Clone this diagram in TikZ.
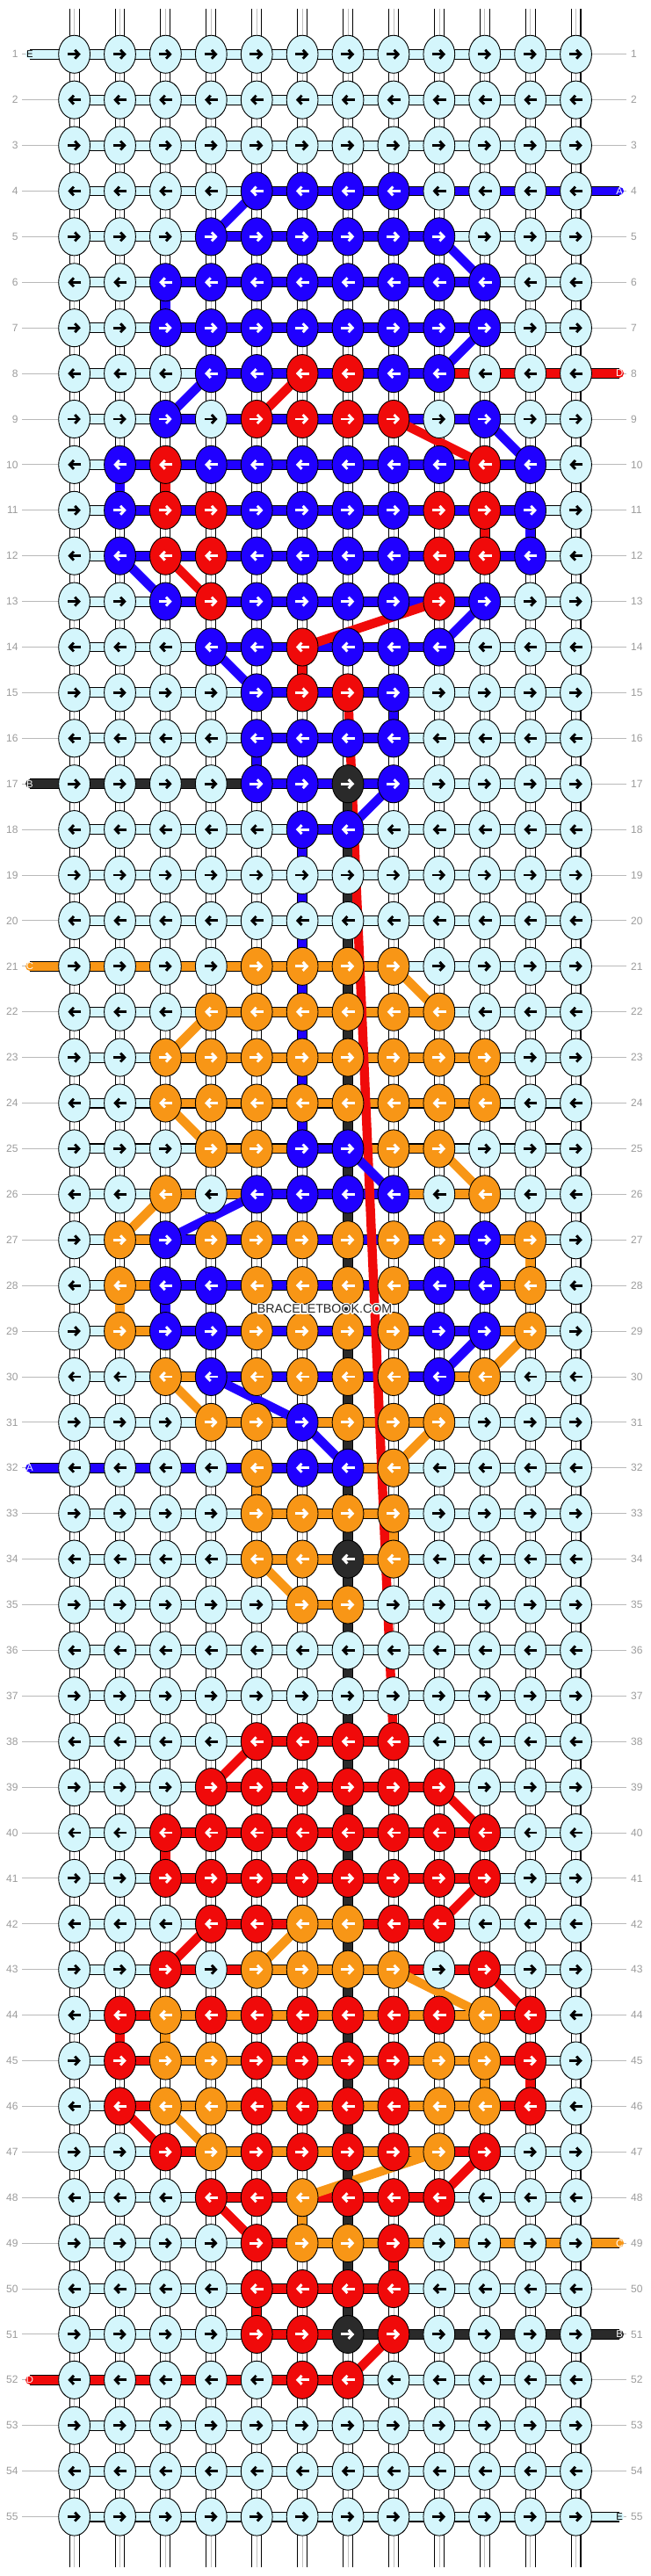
\documentclass[tikz,border=0pt]{standalone}
\usepackage{fontspec}
\setmainfont{Liberation Sans}
\usepackage[copies]{contour}
\usetikzlibrary{shapes.geometric, arrows.meta, positioning}
\pgfdeclarelayer{guides}
\pgfdeclarelayer{threads}
\pgfdeclarelayer{bars}
\pgfdeclarelayer{links}
\pgfsetlayers{guides,threads,bars,links,main}
\definecolor{kE}{RGB}{212,246,252}
\definecolor{kA}{RGB}{32,0,255}
\definecolor{kB}{RGB}{42,42,42}
\definecolor{kC}{RGB}{248,150,22}
\definecolor{kD}{RGB}{240,10,10}
\definecolor{labgray}{RGB}{155,155,155}
\definecolor{guidegray}{RGB}{185,185,185}
\contourlength{0.7pt}
\tikzset{
    knot/.style={ellipse, draw=black, line width=0.5pt, minimum width=0.69cm, minimum height=0.83cm, inner sep=0pt},
    knotE/.style={fill=kE}, knotA/.style={fill=kA}, knotB/.style={fill=kB},
    knotC/.style={fill=kC}, knotD/.style={fill=kD},
    arrowE/.style={black}, arrowA/.style={white}, arrowB/.style={white},
    arrowC/.style={white}, arrowD/.style={white},
    knotarrow/.pic={
      \draw[line width=1.6pt, -{Straight Barb[length=0.09cm, width=0.19cm]}] (-0.15,0) -- (0.14,0);
    },
    thread/.style={draw=white, line width=0.19cm, line cap=round,
      preaction={draw=black, line width=0.23cm}, postaction={draw=black!25, line width=0.3pt}},
    knotbar/.style={draw=#1, line width=0.19cm, line cap=round, preaction={draw=black, line width=0.23cm}},
    strand/.style={draw=#1, line width=0.2cm},
    rowlab/.style={font=\fontsize{6.6}{7}\selectfont, text=labgray, inner sep=2.5pt},
    guide/.style={draw=guidegray, line width=0.5pt},
    tag/.style={font=\fontsize{6.2}{7}\selectfont, inner sep=0pt},
    watermark/.style={font=\fontsize{7.8}{9}\selectfont, text=black!85, inner sep=0pt},
}
\begin{document}
\begin{tikzpicture}
    \useasboundingbox (0,0) rectangle (14.26,-56.49);

    % knots, row by row
    \foreach \r/\row in {
      1/{E,E,E,E,E,E,E,E,E,E,E,E},
      2/{E,E,E,E,E,E,E,E,E,E,E,E},
      3/{E,E,E,E,E,E,E,E,E,E,E,E},
      4/{E,E,E,E,A,A,A,A,E,E,E,E},
      5/{E,E,E,A,A,A,A,A,A,E,E,E},
      6/{E,E,A,A,A,A,A,A,A,A,E,E},
      7/{E,E,A,A,A,A,A,A,A,A,E,E},
      8/{E,E,E,A,A,D,D,A,A,E,E,E},
      9/{E,E,A,E,D,D,D,D,E,A,E,E},
      10/{E,A,D,A,A,A,A,A,A,D,A,E},
      11/{E,A,D,D,A,A,A,A,D,D,A,E},
      12/{E,A,D,D,A,A,A,A,D,D,A,E},
      13/{E,E,A,D,A,A,A,A,D,A,E,E},
      14/{E,E,E,A,A,D,A,A,A,E,E,E},
      15/{E,E,E,E,A,D,D,A,E,E,E,E},
      16/{E,E,E,E,A,A,A,A,E,E,E,E},
      17/{E,E,E,E,A,A,B,A,E,E,E,E},
      18/{E,E,E,E,E,A,A,E,E,E,E,E},
      19/{E,E,E,E,E,E,E,E,E,E,E,E},
      20/{E,E,E,E,E,E,E,E,E,E,E,E},
      21/{E,E,E,E,C,C,C,C,E,E,E,E},
      22/{E,E,E,C,C,C,C,C,C,E,E,E},
      23/{E,E,C,C,C,C,C,C,C,C,E,E},
      24/{E,E,C,C,C,C,C,C,C,C,E,E},
      25/{E,E,E,C,C,A,A,C,C,E,E,E},
      26/{E,E,C,E,A,A,A,A,E,C,E,E},
      27/{E,C,A,C,C,C,C,C,C,A,C,E},
      28/{E,C,A,A,C,C,C,C,A,A,C,E},
      29/{E,C,A,A,C,C,C,C,A,A,C,E},
      30/{E,E,C,A,C,C,C,C,A,C,E,E},
      31/{E,E,E,C,C,A,C,C,C,E,E,E},
      32/{E,E,E,E,C,A,A,C,E,E,E,E},
      33/{E,E,E,E,C,C,C,C,E,E,E,E},
      34/{E,E,E,E,C,C,B,C,E,E,E,E},
      35/{E,E,E,E,E,C,C,E,E,E,E,E},
      36/{E,E,E,E,E,E,E,E,E,E,E,E},
      37/{E,E,E,E,E,E,E,E,E,E,E,E},
      38/{E,E,E,E,D,D,D,D,E,E,E,E},
      39/{E,E,E,D,D,D,D,D,D,E,E,E},
      40/{E,E,D,D,D,D,D,D,D,D,E,E},
      41/{E,E,D,D,D,D,D,D,D,D,E,E},
      42/{E,E,E,D,D,C,C,D,D,E,E,E},
      43/{E,E,D,E,C,C,C,C,E,D,E,E},
      44/{E,D,C,D,D,D,D,D,D,C,D,E},
      45/{E,D,C,C,D,D,D,D,C,C,D,E},
      46/{E,D,C,C,D,D,D,D,C,C,D,E},
      47/{E,E,D,C,D,D,D,D,C,D,E,E},
      48/{E,E,E,D,D,C,D,D,D,E,E,E},
      49/{E,E,E,E,D,C,C,D,E,E,E,E},
      50/{E,E,E,E,D,D,D,D,E,E,E,E},
      51/{E,E,E,E,D,D,B,D,E,E,E,E},
      52/{E,E,E,E,E,D,D,E,E,E,E,E},
      53/{E,E,E,E,E,E,E,E,E,E,E,E},
      54/{E,E,E,E,E,E,E,E,E,E,E,E},
      55/{E,E,E,E,E,E,E,E,E,E,E,E}}{
      \ifodd\r \def\dir{1}\else\def\dir{-1}\fi
      \foreach \k [count=\c] in \row {
        \node[knot, knot\k] (k-\r-\c) at (\c+0.63,-\r-0.19) {};
        \path (k-\r-\c) pic[xscale=\dir, arrow\k] {knotarrow};
      }
      \coordinate (k-\r-0) at (0.655,-\r-0.19);
      \coordinate (k-\r-13) at (13.585,-\r-0.19);
    }

    \begin{pgfonlayer}{guides}
      \foreach \r in {1,...,55}{
        \node[rowlab, anchor=east] (ll-\r) at (0.49,-\r-0.19) {\r};
        \node[rowlab, anchor=west] (rl-\r) at (13.74,-\r-0.19) {\r};
        \draw[guide] (ll-\r) -- (k-\r-1);
        \draw[guide] (k-\r-12) -- (rl-\r);
      }
    \end{pgfonlayer}

    \begin{pgfonlayer}{threads}
      \foreach \c in {1,...,12}{
        \coordinate (top-\c) at (\c+0.63,-0.2);
        \coordinate (bot-\c) at (\c+0.63,-56.29);
        \draw[thread] (top-\c) -- (k-1-\c.center);
        \draw[thread] (k-55-\c.center) -- (bot-\c);
        \foreach \r [evaluate=\r as \n using int(\r+1)] in {1,...,54}
          \draw[thread] (k-\r-\c.center) -- (k-\n-\c.center);
      }
    \end{pgfonlayer}

    \begin{pgfonlayer}{bars}
      \foreach \r in {1,...,55}{
        \draw[knotbar=kE] (k-\r-1.center) -- (k-\r-12.center);
      }
      \draw[knotbar=kE] (k-1-0.center) -- (k-1-1.center);
      \draw[knotbar=kE] (k-55-12.center) -- (k-55-13.center);
      % red
      \foreach \r/\a/\b in {8/6/13, 9/5/8, 10/3/10, 11/3/10, 12/3/10, 13/4/9, 15/6/7,
          38/5/8, 39/4/9, 40/3/10, 41/3/10, 42/4/9, 43/3/10, 44/2/11, 45/2/11, 46/2/11,
          47/3/10, 48/4/9, 49/5/8, 50/5/8, 51/5/8, 52/0/7}
        \draw[knotbar=kD] (k-\r-\a.center) -- (k-\r-\b.center);
      % black
      \foreach \r/\a/\b in {17/0/7, 51/7/13}
        \draw[knotbar=kB] (k-\r-\a.center) -- (k-\r-\b.center);
      % orange
      \foreach \r/\a/\b in {21/0/8, 22/4/9, 23/3/10, 24/3/10, 25/4/9, 26/3/10, 27/2/11,
          28/2/11, 29/2/11, 30/3/10, 31/4/9, 32/5/8, 33/5/8, 34/5/8, 35/6/7, 42/6/7,
          43/5/8, 44/3/10, 45/3/10, 46/3/10, 47/4/9, 49/6/13}
        \draw[knotbar=kC] (k-\r-\a.center) -- (k-\r-\b.center);
      % blue
      \foreach \r/\a/\b in {4/5/13, 5/4/9, 6/3/10, 7/3/10, 8/4/9, 9/3/10, 10/2/11, 11/2/11,
          12/2/11, 13/3/10, 14/4/9, 15/5/8, 16/5/8, 17/5/8, 18/6/7, 25/6/7, 26/5/8,
          27/3/10, 28/3/10, 29/3/10, 30/4/9, 32/0/7}
        \draw[knotbar=kA] (k-\r-\a.center) -- (k-\r-\b.center);
    \end{pgfonlayer}

    \begin{pgfonlayer}{links}
      \foreach \ra/\ca/\rb/\cb in {8/6/9/5, 9/8/10/10, 10/3/11/3, 11/10/12/10, 12/3/13/4,
          13/9/14/6, 14/6/15/6, 15/7/38/8, 38/5/39/4, 39/9/40/10, 40/3/41/3, 41/10/42/9,
          42/4/43/3, 43/10/44/11, 44/2/45/2, 45/11/46/11, 46/2/47/3, 47/10/48/9,
          48/4/49/5, 49/8/50/8, 50/5/51/5, 51/8/52/7}
        \draw[strand=kD] (k-\ra-\ca.center) -- (k-\rb-\cb.center);
      \foreach \ra/\ca/\rb/\cb in {21/8/22/9, 22/4/23/3, 23/10/24/10, 24/3/25/4, 25/9/26/10,
          26/3/27/2, 27/11/28/11, 28/2/29/2, 29/11/30/10, 30/3/31/4, 31/9/32/8,
          32/5/33/5, 33/8/34/8, 34/5/35/6, 35/7/42/7, 42/6/43/5, 43/8/44/10,
          44/3/45/3, 45/10/46/10, 46/3/47/4, 47/9/48/6, 48/6/49/6}
        \draw[strand=kC] (k-\ra-\ca.center) -- (k-\rb-\cb.center);
      \foreach \ra/\ca/\rb/\cb in {17/7/34/7, 34/7/51/7}
        \draw[strand=kB] (k-\ra-\ca.center) -- (k-\rb-\cb.center);
      \foreach \ra/\ca/\rb/\cb in {4/5/5/4, 5/9/6/10, 6/3/7/3, 7/10/8/9, 8/4/9/3, 9/10/10/11,
          10/2/11/2, 11/11/12/11, 12/2/13/3, 13/10/14/9, 14/4/15/5, 15/8/16/8,
          16/5/17/5, 17/8/18/7, 18/6/25/6, 25/7/26/8, 26/5/27/3, 27/10/28/10,
          28/3/29/3, 29/10/30/9, 30/4/31/6, 31/6/32/7}
        \draw[strand=kA] (k-\ra-\ca.center) -- (k-\rb-\cb.center);
    \end{pgfonlayer}

    \node[tag, text=black] (tag-1) at (k-1-0) {E};
    \node[tag, text=white] (tag-4) at (k-4-13) {A};
    \node[tag, text=white] (tag-8) at (k-8-13) {D};
    \node[tag, text=white] (tag-17) at (k-17-0) {B};
    \node[tag, text=white] (tag-21) at (k-21-0) {C};
    \node[tag, text=white] (tag-32) at (k-32-0) {A};
    \node[tag, text=white] (tag-49) at (k-49-13) {C};
    \node[tag, text=white] (tag-51) at (k-51-13) {B};
    \node[tag, text=white] (tag-52) at (k-52-0) {D};
    \node[tag, text=black] (tag-55) at (k-55-13) {E};

    \node[watermark] (wm) at (7.12,-28.72) {\contour{white}{BRACELETBOOK.COM}};
\end{tikzpicture}
\end{document}
